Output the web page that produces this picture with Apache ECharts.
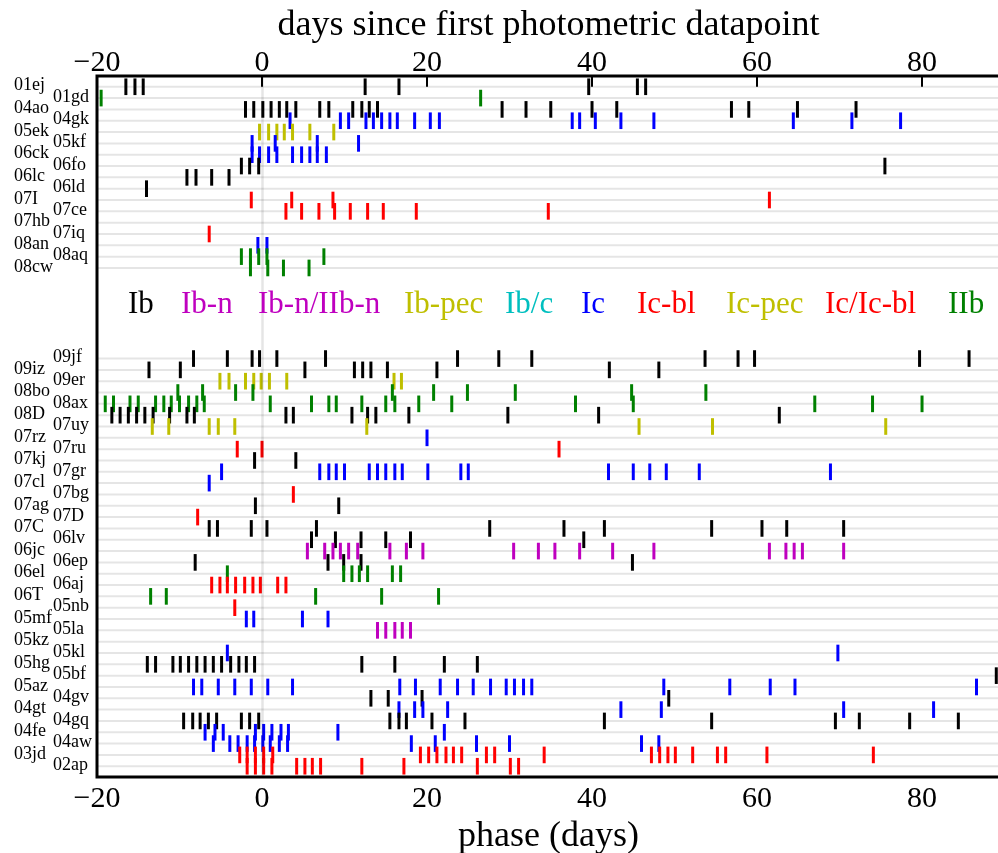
<!DOCTYPE html>
<html><head><meta charset="utf-8">
<script src="https://cdn.jsdelivr.net/npm/echarts@6/dist/echarts.min.js"></script>
<style>html,body{margin:0;padding:0;background:#fff}#c{width:998px;height:853px}</style>
</head><body><div id="c"></div>
<script>
// ---------- data ----------
const typeNames = ['Ib','Ib-n','Ib-n/IIb-n','Ib-pec','Ib/c','Ic','Ic-bl','Ic-pec','Ic/Ic-bl','IIb'];

const upperNames = ['01ej','01gd','04ao','04gk','05ek','05kf','06ck','06fo','06lc','06ld','07I','07ce','07hb','07iq','08an','08aq','08cw'];
const upperTypes = ['Ib','IIb','Ib','Ic','Ic-pec','Ic','Ic','Ib','Ib','Ib','Ic-bl','Ic-bl','Ic','Ic-bl','Ic','IIb','IIb'];
const upperPhases = [
  [-16.5,-15.4,-14.4,12.5,16.6,39.6,45.5,46.5],
  [-19.5,26.5],
  [-2.0,-1.0,0.1,1.1,2.1,3.0,4.1,7.0,8.1,11.0,12.1,13.0,14.0,29.1,32.0,35.0,40.0,43.0,56.9,59.0,64.9,72.0],
  [3.4,9.5,10.5,12.6,13.5,14.5,15.5,16.4,18.5,20.4,21.5,37.6,38.5,40.4,43.5,47.5,64.4,71.5,77.4],
  [-0.3,0.8,1.8,2.7,3.7,5.8,8.7],
  [-1.2,1.6,6.7,11.7],
  [-1.2,-0.3,0.8,1.8,3.7,4.8,5.8,6.7,7.8],
  [-2.5,-1.5,-0.4,75.5],
  [-9.1,-8.0,-6.1,-4.0],
  [-14.0],
  [-1.3,3.6,8.6,61.5],
  [2.9,4.8,6.9,8.8,10.7,12.8,14.7,18.7,34.7],
  [],
  [-6.4],
  [-0.5,0.6],
  [-2.5,-1.4,-0.4,0.6,7.5],
  [-1.4,0.7,2.6,5.7]
];

const lowerNames = ['09jf','09iz','09er','08bo','08ax','08D','07uy','07rz','07ru','07kj','07gr','07cl','07bg','07ag','07D','07C','06lv','06jc','06ep','06el','06aj','06T','05nb','05mf','05la','05kz','05kl','05hg','05bf','05az','04gv','04gt','04gq','04fe','04aw','03jd','02ap'];
const lowerTypes = ['Ib','Ib','Ib-pec','IIb','IIb','Ib','Ib-pec','Ic','Ic-bl','Ib','Ic','Ic','Ic-bl','Ib','Ic-bl','Ib','Ib','Ib-n','Ib','IIb','Ic-bl','IIb','Ic-bl','Ic','Ib-n/IIb-n','Ic-bl','Ic','Ib','Ib','Ic','Ib','Ic','Ib','Ic','Ic','Ic-bl','Ic-bl'];
const lowerPhases = [
  [-8.3,-4.2,-1.2,-0.3,1.8,7.7,23.7,28.7,32.7,53.7,57.7,59.7,79.7,85.7],
  [-13.7,-9.9,5.2,11.2,12.2,13.2,15.2,21.2,42.1,48.1],
  [-5.1,-4.0,-2.0,-1.0,-0.1,0.9,3.0,16.0,16.9],
  [-10.2,-7.2,-3.2,-1.1,15.8,20.8,24.9,30.7,44.8,53.8],
  [-19.0,-18.0,-16.0,-15.0,-12.9,-11.9,-11.0,-10.0,-8.9,-7.9,-7.0,1.0,6.0,8.1,9.0,12.1,15.0,16.1,19.0,23.0,38.0,45.0,67.0,74.0,80.0],
  [-18.2,-17.2,-16.2,-15.2,-14.2,-13.2,-11.2,-9.1,-8.2,2.9,3.8,10.9,12.8,13.8,17.8,29.8,40.8,62.7],
  [-13.3,-11.3,-6.4,-5.3,-3.3,12.7,45.7,54.6,75.6],
  [20.0],
  [-3.0,0.0,36.0],
  [-0.9,4.1],
  [-4.9,7.0,8.1,9.0,10.0,13.0,14.0,15.0,16.1,17.0,20.1,24.1,25.0,42.0,45.0,47.0,49.0,53.0,68.9],
  [-6.4],
  [3.8],
  [-0.8,9.3],
  [-7.8],
  [-6.4,-5.4,-1.3,0.6,6.6,27.6,36.6,41.5,54.5,60.6,63.6,70.5],
  [6.0,8.9,12.0,15.0,18.0,39.0],
  [5.5,7.6,8.6,9.5,10.5,11.6,15.5,17.5,19.5,30.5,33.5,35.5,38.5,42.5,47.5,61.5,63.5,64.5,65.5,70.5],
  [-8.1,8.0,9.9,12.0,44.9],
  [-4.2,9.9,10.9,11.8,12.8,15.8,16.8],
  [-6.1,-5.1,-4.2,-3.2,-2.1,-1.1,-0.2,1.9,2.9],
  [-13.5,-11.6,6.5,14.5,21.4],
  [-3.3],
  [-1.9,-1.0,4.9,8.0],
  [14.0,15.0,16.1,17.0,18.0],
  [],
  [-4.2,69.8],
  [-13.9,-12.9,-10.8,-9.9,-8.9,-7.9,-6.9,-5.9,-4.9,-3.8,-2.8,-1.9,-0.9,12.1,16.1,22.1,26.1],
  [89.0],
  [-8.3,-7.3,-5.3,-3.3,-1.3,0.7,3.7,16.7,18.6,21.6,23.7,25.6,27.7,29.6,30.6,31.7,32.7,48.7,56.7,61.6,64.6,86.6],
  [13.2,15.3,19.4,49.3],
  [16.6,18.5,19.5,22.5,43.5,48.4,70.5,81.4],
  [-9.5,-8.4,-7.5,-6.5,-5.5,-2.5,-1.5,-0.4,15.5,16.6,17.5,20.6,24.6,41.5,54.5,69.5,72.4,78.5,84.4],
  [-6.9,-5.7,-4.7,-0.8,0.2,1.2,2.3,3.2,9.2,22.1],
  [-5.9,-3.9,-2.9,-1.8,-0.9,0.1,1.0,2.1,3.1,18.1,21.0,26.0,30.0,46.0,48.1],
  [-2.7,-1.8,-0.8,0.2,1.3,19.2,20.2,21.2,22.3,23.2,24.2,27.2,28.2,34.2,47.2,48.2,49.2,50.1,52.2,55.2,56.2,61.2,74.1],
  [-1.8,-0.8,0.2,1.2,4.2,5.2,6.1,7.1,12.1,17.2,26.1,30.1,31.1]
];

const xTickLabels = [-20, 0, 20, 40, 60, 80];

// ---------- styling / layout ----------
const typeColors = {
  'Ib':'#000000','Ib-n':'#bf00bf','Ib-n/IIb-n':'#bf00bf','Ib-pec':'#bfbf00','Ib/c':'#00bfbf',
  'Ic':'#0000ff','Ic-bl':'#ff0000','Ic-pec':'#bfbf00','Ic/Ic-bl':'#ff0000','IIb':'#008000'
};
const legendLeft = [128,181,258,404,505,581,637,726,825,948];
const LOWER_START = 24;
const XMIN = -20, XMAX = 89.45;
const FONT = '"Liberation Serif","Times New Roman",serif';

const tickData = [], rowData = [], labelData = [];
function addGroup(names, types, phases, start, firstLeft) {
  names.forEach((n, i) => {
    const row = start + i;
    rowData.push([0, row]);
    labelData.push([XMIN, row, n, (i % 2 === 0) === firstLeft ? 0 : 1]);
    phases[i].forEach(p => tickData.push([p, row, types[i]]));
  });
}
addGroup(upperNames, upperTypes, upperPhases, 0, true);
addGroup(lowerNames, lowerTypes, lowerPhases, LOWER_START, false);

const fmt = v => xTickLabels.indexOf(v) < 0 ? '' : (v < 0 ? '\u2212' + Math.abs(v) : String(v));

const chart = echarts.init(document.getElementById('c'), null, {renderer: 'canvas'});
function xAxisDef(pos, name, gap, margin) {
  return {
    type: 'value', min: XMIN, max: XMAX, interval: 20, position: pos,
    axisLine: {show: false}, splitLine: {show: false},
    axisTick: {show: true, inside: true, length: 9, lineStyle: {color: '#000', width: 2}},
    axisLabel: {formatter: fmt, fontFamily: FONT, fontSize: 30, color: '#000', margin: margin, showMaxLabel: false},
    name: name, nameLocation: 'middle', nameGap: gap,
    nameTextStyle: {fontFamily: FONT, fontSize: 36, color: '#000'}
  };
}
chart.setOption({
  animation: false,
  backgroundColor: '#fff',
  grid: {left: 97, top: 76, width: 903, height: 701, show: true, borderColor: '#000', borderWidth: 3,
         backgroundColor: 'transparent', containLabel: false, outerBoundsMode: 'none'},
  xAxis: [
    xAxisDef('bottom', 'phase (days)', 33, 7),
    xAxisDef('top', 'days since first photometric datapoint', 28, -2)
  ],
  yAxis: {type: 'value', min: -0.95, max: 60.95, inverse: true, show: false},
  graphic: typeNames.map((t, i) => ({
    type: 'text', x: legendLeft[i], y: 305, z: 100,
    style: {text: t, fill: typeColors[t], font: '31px ' + FONT, align: 'left', verticalAlign: 'middle'}
  })),
  series: [
    {
      type: 'custom', name: 'rows', z: 1, silent: true, data: rowData,
      renderItem: (params, api) => {
        const a = api.coord([XMIN, api.value(1)]);
        const b = api.coord([XMAX, api.value(1)]);
        return {type: 'line', shape: {x1: a[0], y1: a[1], x2: b[0], y2: b[1]},
          style: {stroke: 'rgba(0,0,0,0.1)', lineWidth: 2}};
      },
      markLine: {
        silent: true, symbol: ['none', 'none'], label: {show: false},
        lineStyle: {color: 'rgba(0,0,0,0.1)', width: 2.5, type: 'solid'},
        data: [{xAxis: 0}]
      }
    },
    {
      type: 'custom', name: 'observations', z: 3, silent: true, data: tickData,
      encode: {x: 0, y: 1},
      renderItem: (params, api) => {
        const p = api.coord([api.value(0), api.value(1)]);
        const h = Math.abs(api.size([0, 1.47])[1]);
        const t = tickData[params.dataIndex][2];
        return {type: 'rect', shape: {x: p[0] - 1.5, y: p[1] - h / 2, width: 3, height: h},
          style: {fill: typeColors[t]}};
      }
    },
    {
      type: 'custom', name: 'labels', z: 4, silent: true, clip: false, data: labelData,
      encode: {x: 0, y: 1},
      renderItem: (params, api) => {
        const d = labelData[params.dataIndex];
        const p = api.coord([XMIN, d[1]]);
        return {type: 'text', x: d[3] === 0 ? 14 : 53, y: p[1] - 1,
          style: {text: d[2], fill: '#000', font: '18px ' + FONT, align: 'left', verticalAlign: 'middle'}};
      }
    }
  ]
});
</script>
</body></html>
